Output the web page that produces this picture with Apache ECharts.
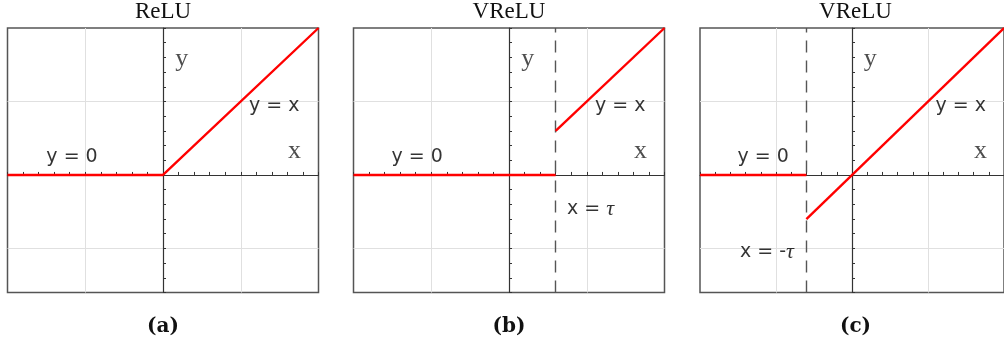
<!DOCTYPE html>
<html>
<head>
<meta charset="utf-8">
<script src="https://cdn.jsdelivr.net/npm/echarts@6/dist/echarts.min.js"></script>
<style>
  html, body { margin: 0; padding: 0; background: #fff; }
  #chart { width: 1004px; height: 351px; }
</style>
</head>
<body>
<div id="chart"></div>
<script>
// Panel texts
const panelTitles = ['ReLU', 'VReLU', 'VReLU'];
const panelCaptions = ['(a)', '(b)', '(c)'];

// Activation pieces, one polyline per continuous piece
const reluPieces = [[[-2, 0], [0, 0], [2, 2]]];
const vreluPieces = [[[-2, 0], [0.6, 0]], [[0.6, 0.6], [2, 2]]];
const vreluSymPieces = [[[-2, 0], [-0.6, 0]], [[-0.6, -0.6], [2, 2]]];
const panelPieces = [reluPieces, vreluPieces, vreluSymPieces];

// Threshold x = ±tau (dashed), none for plain ReLU
const thresholdLines = [null, 0.6, -0.6];

// Axis extents and grid
const xRange = [-2, 2];
const yRange = [-1.6, 2];
const gridValues = [-1, 1];
const tickStep = 0.2;

// Annotations, in data coordinates
const curveLabels = [
  [{ name: 'y = x', value: [1.43, 0.94] }, { name: 'y = 0', value: [-1.17, 0.25] }],
  [{ name: 'y = x', value: [1.43, 0.94] }, { name: 'y = 0', value: [-1.18, 0.25] },
   { name: 'x = τ', value: [1.05, -0.46] }],
  [{ name: 'y = x', value: [1.43, 0.94] }, { name: 'y = 0', value: [-1.17, 0.25] },
   { name: 'x = -τ', value: [-1.12, -1.05] }]
];
const axisLetters = [
  { name: 'y', value: [0.24, 1.57] },
  { name: 'x', value: [1.69, 0.33] }
];

// Panel frames in pixels
const panelLefts = [7.5, 353.5, 700];
const panelWidth = 311;
const panelTop = 28;
const panelHeight = 264.5;

const chart = echarts.init(document.getElementById('chart'), null, { renderer: 'canvas' });

const grids = [], xAxes = [], yAxes = [], series = [], graphics = [];

panelLefts.forEach((left, i) => {
  grids.push({
    left: left, top: panelTop, width: panelWidth, height: panelHeight,
    show: true, borderColor: '#555', borderWidth: 1.5, backgroundColor: 'transparent'
  });
  const axisCommon = {
    gridIndex: i, type: 'value', interval: tickStep, z: 1.5,
    axisLine: { show: true, onZero: true, lineStyle: { color: '#333', width: 1.2 } },
    axisTick: { show: true, inside: true, length: 3, lineStyle: { color: '#333', width: 1 } },
    axisLabel: { show: false },
    splitLine: { show: false }
  };
  xAxes.push(Object.assign({}, axisCommon, { min: xRange[0], max: xRange[1] }));
  yAxes.push(Object.assign({}, axisCommon, { min: yRange[0], max: yRange[1] }));

  // light grid lines at ±1
  series.push({
    type: 'scatter', xAxisIndex: i, yAxisIndex: i, data: [], z: 1, silent: true,
    markLine: {
      z: 1, silent: true, symbol: ['none', 'none'], label: { show: false }, animation: false,
      lineStyle: { color: '#e0e0e0', width: 1, type: 'solid' },
      emphasis: { disabled: true },
      data: gridValues.map(v => ({ xAxis: v })).concat(gridValues.map(v => ({ yAxis: v })))
    }
  });

  // dashed threshold
  if (thresholdLines[i] !== null) {
    series.push({
      type: 'scatter', xAxisIndex: i, yAxisIndex: i, data: [], z: 2, silent: true,
      markLine: {
        z: 2, silent: true, symbol: ['none', 'none'], label: { show: false }, animation: false,
        lineStyle: { color: '#555', width: 1.4, type: [12, 8] },
        emphasis: { disabled: true },
        data: [{ xAxis: thresholdLines[i] }]
      }
    });
  }

  // activation curve
  panelPieces[i].forEach(piece => {
    series.push({
      type: 'line', xAxisIndex: i, yAxisIndex: i, data: piece,
      showSymbol: false, symbol: 'none', z: 3, silent: true, animation: false,
      lineStyle: { color: '#ff0000', width: 2.4 }
    });
  });

  // curve annotations
  series.push({
    type: 'scatter', xAxisIndex: i, yAxisIndex: i, symbolSize: 0, z: 6, silent: true,
    data: curveLabels[i],
    label: {
      show: true, position: 'inside', align: 'center', verticalAlign: 'middle',
      formatter: p => p.name.replace('τ', '{t|τ}'),
      fontFamily: 'DejaVu Sans', fontSize: 19, color: '#000',
      rich: { t: { fontFamily: 'Liberation Serif', fontStyle: 'italic', fontSize: 22, color: '#000' } }
    }
  });

  // axis letters
  series.push({
    type: 'scatter', xAxisIndex: i, yAxisIndex: i, symbolSize: 0, z: 6, silent: true,
    data: axisLetters,
    label: {
      show: true, position: 'inside', align: 'center', verticalAlign: 'middle',
      formatter: p => p.name,
      fontFamily: 'Liberation Serif', fontSize: 26, color: '#222'
    }
  });

  const cx = left + panelWidth / 2;
  graphics.push({
    type: 'text', x: cx, y: 12, silent: true,
    style: { text: panelTitles[i], textAlign: 'center', textVerticalAlign: 'middle',
             font: '23px "Liberation Serif"', fill: '#111' }
  });
  graphics.push({
    type: 'text', x: cx, y: 327, silent: true,
    style: { text: panelCaptions[i], textAlign: 'center', textVerticalAlign: 'middle',
             font: 'bold 20px "DejaVu Serif"', fill: '#111' }
  });
});

chart.setOption({
  animation: false,
  backgroundColor: '#fff',
  grid: grids,
  xAxis: xAxes,
  yAxis: yAxes,
  series: series,
  graphic: graphics
});
</script>
</body>
</html>
